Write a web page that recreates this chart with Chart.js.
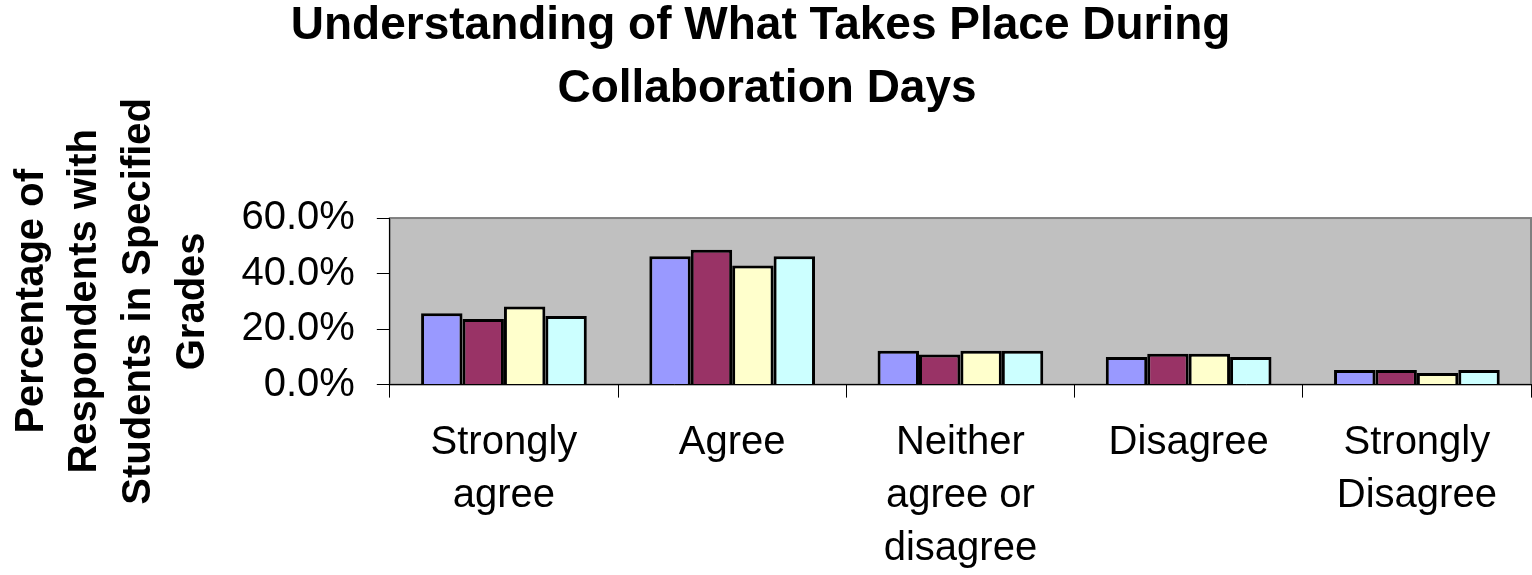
<!DOCTYPE html>
<html>
<head>
<meta charset="utf-8">
<script src="https://cdn.jsdelivr.net/npm/chart.js@4.4.1/dist/chart.umd.min.js"></script>
<style>
  html, body { margin: 0; padding: 0; background: #fff; }
  #wrap { width: 1532px; height: 575px; }
</style>
</head>
<body>
<div id="wrap"><canvas id="chart"></canvas></div>
<script>
// answer categories (multi-line labels as in the original)
const categories = [["Strongly", "agree"], "Agree", ["Neither", "agree or", "disagree"], "Disagree", ["Strongly", "Disagree"]];

// percentage of respondents, one array per grade group (no legend in the original)
const series1 = [25.7, 46.2, 12.2, 9.9, 5.3];
const series2 = [23.6, 48.6, 10.8, 11.1, 5.3];
const series3 = [28.1, 42.9, 12.2, 11.1, 4.2];
const series4 = [24.7, 46.2, 12.2, 9.9, 5.3];

const yTicks = [0, 20, 40, 60];

const titleLines = ["Understanding of What Takes Place During ", "Collaboration Days"];
const yTitleLines = ["Percentage of", "Respondents with", "Students in Specified", "Grades"];

const colors = ["#9999ff", "#993366", "#ffffcc", "#ccffff"];
const FONT = "'Liberation Sans', Arial, sans-serif";

// grey plot area like the old Excel charts
const plotBackground = {
  id: "plotBackground",
  beforeDraw(chart) {
    const { ctx, chartArea: a } = chart;
    ctx.save();
    ctx.fillStyle = "#c0c0c0";
    ctx.fillRect(a.left, a.top, a.width, a.height);
    ctx.strokeStyle = "#808080";
    ctx.lineWidth = 2;
    ctx.strokeRect(a.left, a.top, a.width, a.height);
    ctx.restore();
  }
};

const datasets = [series1, series2, series3, series4].map((data, i) => ({
  label: "Series " + (i + 1),
  data: data,
  backgroundColor: colors[i],
  borderColor: "#000",
  borderWidth: 3,
  borderSkipped: "bottom",
  categoryPercentage: 0.726,
  barPercentage: 1
}));

new Chart(document.getElementById("chart"), {
  type: "bar",
  data: { labels: categories, datasets: datasets },
  plugins: [plotBackground],
  options: {
    responsive: true,
    maintainAspectRatio: false,
    animation: false,
    layout: { padding: { left: 3, right: 1, top: 0, bottom: -19 } },
    plugins: {
      legend: { display: false },
      tooltip: { enabled: false },
      title: {
        display: true,
        text: titleLines,
        color: "#000",
        font: { family: FONT, size: 46, weight: "bold", lineHeight: 1.37 },
        padding: { top: -5, bottom: 97 }
      }
    },
    scales: {
      x: {
        grid: { offset: true, drawOnChartArea: false, drawTicks: true, tickLength: 13, color: "#000" },
        border: { color: "#000", width: 1 },
        ticks: {
          color: "#000",
          maxRotation: 0,
          autoSkip: false,
          padding: 19,
          font: { family: FONT, size: 40, lineHeight: 1.32 }
        }
      },
      y: {
        min: 0,
        max: 60,
        afterBuildTicks: axis => { axis.ticks = yTicks.map(v => ({ value: v })); },
        grid: { drawOnChartArea: false, drawTicks: true, tickLength: 13, color: "#000" },
        border: { color: "#000", width: 1 },
        ticks: {
          color: "#000",
          autoSkip: false,
          padding: 22,
          callback: v => v.toFixed(1) + "%",
          font: { family: FONT, size: 40 }
        },
        title: {
          display: true,
          text: yTitleLines,
          color: "#000",
          padding: { top: 2, bottom: 0 },
          font: { family: FONT, size: 40, weight: "bold", lineHeight: 1.34 }
        }
      }
    }
  }
});
</script>
</body>
</html>
